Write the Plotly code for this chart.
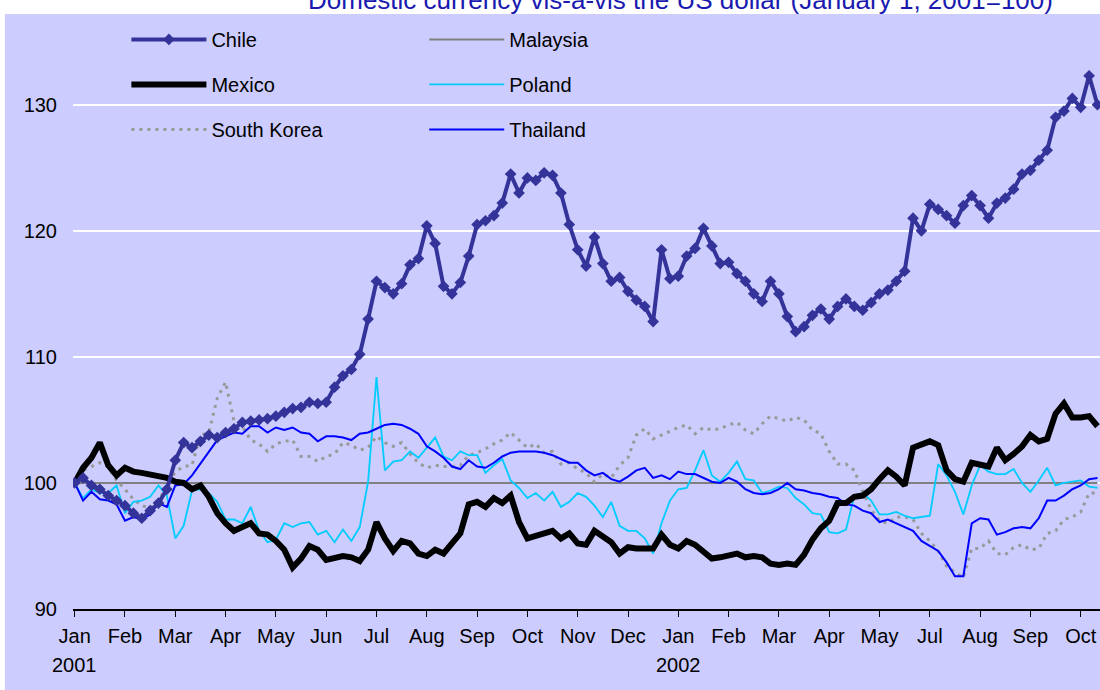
import plotly.graph_objects as go

# ---- data (index = sample position, ~1/6 of a tick interval) ----
chile = [100.0, 100.4, 99.8, 99.5, 99.0, 98.6, 98.2, 97.6, 97.2, 97.8,
         98.4, 99.5, 101.8, 103.2, 102.8, 103.3, 103.8, 103.6, 104.0, 104.3,
         104.8, 104.9, 105.0, 105.1, 105.3, 105.6, 105.9, 106.0, 106.4, 106.3,
         106.4, 107.6, 108.5, 109.0, 110.2, 113.0, 116.0, 115.5, 115.0, 115.8,
         117.3, 117.8, 120.4, 119.0, 115.6, 115.0, 115.9, 118.0, 120.5, 120.8,
         121.2, 122.2, 124.5, 123.0, 124.2, 124.0, 124.6, 124.4, 123.0, 120.5,
         118.5, 117.2, 119.5, 117.4, 116.0, 116.3, 115.2, 114.5, 114.0, 112.8,
         118.5, 116.2, 116.4, 118.0, 118.6, 120.2, 118.8, 117.4, 117.5, 116.6,
         116.0, 115.0, 114.4, 116.0, 115.0, 113.2, 112.0, 112.4, 113.3, 113.8,
         113.0, 114.0, 114.6, 114.0, 113.7, 114.3, 115.0, 115.3, 116.0, 116.8,
         121.0, 120.0, 122.1, 121.7, 121.2, 120.6, 122.0, 122.8, 122.0, 121.0,
         122.2, 122.6, 123.3, 124.5, 124.8, 125.6, 126.4, 129.0, 129.5, 130.5,
         129.8, 132.3, 130.0]

mexico = [100.0, 101.2, 102.0, 103.2, 101.4, 100.6, 101.2, 100.9, 100.8, 100.7,
          100.6, 100.4, 100.1, 100.0, 99.5, 99.8, 98.9, 97.6, 96.8, 96.2,
          96.5, 96.8, 96.0, 95.9, 95.4, 94.7, 93.3, 94.0, 95.0, 94.7,
          93.9, 94.0, 94.2, 94.1, 93.8, 94.7, 96.9, 95.6, 94.6, 95.4,
          95.2, 94.4, 94.2, 94.7, 94.4, 95.2, 96.0, 98.3, 98.5, 98.1,
          98.8, 98.4, 99.0, 96.9, 95.6, 95.8, 96.0, 96.2, 95.6, 96.0,
          95.2, 95.1, 96.2, 95.8, 95.3, 94.4, 94.9, 94.8, 94.8, 94.8,
          95.9, 95.1, 94.8, 95.4, 95.1, 94.5, 94.0, 94.1, 94.2, 94.4,
          94.1, 94.2, 94.1, 93.6, 93.5, 93.6, 93.5, 94.3, 95.5, 96.4,
          97.0, 98.4, 98.4, 98.9, 99.0, 99.5, 100.3, 101.0, 100.5, 99.8,
          102.8, 103.1, 103.3, 103.0, 101.0, 100.3, 100.1, 101.6, 101.5, 101.3,
          102.8, 101.8, 102.3, 102.9, 103.8, 103.3, 103.5, 105.5, 106.3, 105.2,
          105.2, 105.3, 104.5]

poland = [100.0, 98.8, 99.5, 99.2, 99.2, 99.8, 97.6, 98.5, 98.6, 98.9,
          99.8, 99.0, 95.6, 96.6, 99.4, 99.5, 99.2, 98.5, 97.1, 97.1,
          96.8, 98.1, 96.2, 95.3, 95.5, 96.8, 96.5, 96.8, 96.9, 95.9,
          96.2, 95.3, 96.3, 95.4, 96.5, 100.1, 108.4, 101.0, 101.7, 101.8,
          102.5, 102.0, 102.8, 103.6, 102.1, 101.8, 102.5, 102.2, 102.2, 100.8,
          101.4, 101.9, 100.2, 99.6, 98.8, 99.2, 98.6, 99.3, 98.1, 98.5,
          99.2, 98.9, 98.2, 97.3, 98.5, 96.6, 96.2, 96.2, 95.6, 94.4,
          96.8, 98.6, 99.5, 99.6, 101.0, 102.6, 100.6, 100.1, 100.8, 101.7,
          100.3, 100.2, 99.2, 99.4, 99.7, 99.6, 98.8, 98.3, 97.6, 97.5,
          96.1, 96.0, 96.3, 99.0, 99.2, 98.6, 97.5, 97.5, 97.7, 97.4,
          97.2, 97.3, 97.4, 101.5, 100.6, 99.3, 97.5, 99.8, 101.4, 100.9,
          100.7, 100.7, 101.1, 100.0, 99.3, 100.2, 101.2, 99.8, 100.0, 100.1,
          100.2, 99.7, 99.6]

south_korea = [100.0, 101.0, 101.3, 101.6, 101.3, 100.2, 99.5, 98.7, 98.2, 98.0,
               98.6, 99.8, 100.9, 101.3, 101.4, 103.8, 104.0, 106.7, 108.0, 104.9,
               104.5, 103.4, 103.1, 102.5, 103.1, 103.3, 103.4, 102.1, 102.1, 101.7,
               102.1, 102.3, 103.2, 103.0, 102.6, 102.8, 103.7, 103.2, 102.9, 103.2,
               102.3, 101.6, 101.2, 101.4, 101.3, 101.3, 101.4, 102.2, 102.4, 102.7,
               103.1, 103.4, 104.0, 103.4, 102.8, 103.1, 102.4, 102.5, 101.5, 101.6,
               101.1, 100.8, 100.1, 100.7, 100.4, 101.4, 102.0, 103.8, 104.3, 103.5,
               103.8, 104.1, 104.4, 104.6, 103.9, 104.4, 104.2, 104.3, 104.6, 104.8,
               104.2, 103.9, 104.7, 105.3, 105.1, 104.9, 105.2, 105.0, 104.2, 103.9,
               102.5, 101.5, 101.5, 101.0, 99.3, 97.9, 97.0, 96.8, 97.3, 97.3,
               97.1, 96.0, 95.4, 94.6, 93.4, 92.9, 92.5, 94.8, 94.8, 95.4,
               94.4, 94.3, 94.9, 95.1, 94.7, 94.8, 96.0, 96.2, 97.1, 97.3,
               97.7, 99.2, 99.2]

thailand = [100.0, 98.6, 99.3, 98.7, 98.6, 98.3, 97.0, 97.3, 97.1, 97.5,
            98.4, 98.1, 99.8, 99.9, 100.6, 101.5, 102.4, 103.4, 103.7, 104.0,
            103.9, 104.5, 104.5, 104.0, 104.4, 104.2, 104.4, 104.0, 103.9, 103.3,
            103.7, 103.7, 103.6, 103.4, 103.9, 104.0, 104.3, 104.6, 104.7, 104.6,
            104.3, 103.9, 102.9, 102.5, 102.0, 101.3, 101.1, 101.8, 101.3, 101.2,
            101.6, 102.1, 102.4, 102.5, 102.5, 102.5, 102.4, 102.2, 101.9, 101.6,
            101.6, 101.0, 100.6, 100.8, 100.3, 100.1, 100.5, 101.0, 101.2, 100.4,
            100.6, 100.3, 100.9, 100.7, 100.7, 100.4, 100.1, 100.0, 100.4, 100.1,
            99.5, 99.2, 99.1, 99.2, 99.5, 100.0, 99.5, 99.4, 99.2, 99.1,
            98.9, 98.8, 98.3, 98.2, 97.8, 97.6, 96.9, 97.1, 96.8, 96.5,
            96.2, 95.4, 95.0, 94.6, 93.7, 92.6, 92.6, 96.8, 97.2, 97.1,
            95.9, 96.1, 96.4, 96.5, 96.4, 97.2, 98.6, 98.6, 99.0, 99.5,
            99.8, 100.3, 100.4]

malaysia = [100.0, 100.0]  # pegged: flat over the whole period

month_labels = ["Jan", "Feb", "Mar", "Apr", "May", "Jun", "Jul", "Aug", "Sep",
                "Oct", "Nov", "Dec", "Jan", "Feb", "Mar", "Apr", "May", "Jul",
                "Aug", "Sep", "Oct"]
year_labels = ["2001", "2002"]

idx = list(range(len(chile)))
step = 6
tickvals = [k * step for k in range(len(month_labels))]
year_pos = [tickvals[0], tickvals[12]]

FONT = "Liberation Sans, Arial, sans-serif"
LAV = "#CCCCFF"

fig = go.Figure()

fig.add_trace(go.Scatter(x=[idx[0], idx[-1]], y=malaysia, mode="lines", name="Malaysia",
                         line=dict(color="#808080", width=2), legend="legend2",
                         legendgroup="my", legendrank=1))
fig.add_trace(go.Scatter(x=idx, y=south_korea, mode="lines", name="South Korea",
                         line=dict(color="#999999", width=3, dash="3px,5px"),
                         legendgroup="sk", legendrank=3))
fig.add_trace(go.Scatter(x=idx, y=poland, mode="lines", name="Poland",
                         line=dict(color="#00CCFF", width=1.8), legend="legend2",
                         legendgroup="pl", legendrank=2))
fig.add_trace(go.Scatter(x=idx, y=thailand, mode="lines", name="Thailand",
                         line=dict(color="#0000FF", width=2), legend="legend2",
                         legendgroup="th", legendrank=3))
fig.add_trace(go.Scatter(x=idx, y=mexico, mode="lines", name="Mexico",
                         line=dict(color="#000000", width=6),
                         legendgroup="mx", legendrank=2))
fig.add_trace(go.Scatter(x=idx, y=chile, mode="lines+markers", name="Chile",
                         line=dict(color="#333399", width=4),
                         marker=dict(symbol="diamond", size=9, color="#333399"),
                         legendgroup="cl", legendrank=1))

legend_common = dict(font=dict(family=FONT, size=20, color="#000000"),
                     bgcolor="rgba(0,0,0,0)", itemwidth=75, tracegroupgap=16,
                     traceorder="grouped", xanchor="left", yanchor="top",
                     orientation="v")

fig.update_layout(
    width=1100, height=690,
    margin=dict(l=73, r=0, t=14, b=81),
    paper_bgcolor=LAV, plot_bgcolor=LAV,
    font=dict(family=FONT, size=20, color="#000000"),
    showlegend=True,
    legend=dict(x=0.052, y=0.99, **legend_common),
    legend2=dict(x=0.342, y=0.99, **legend_common),
    xaxis=dict(range=[-0.2, 122.3], tickmode="array", tickvals=tickvals,
               ticktext=month_labels, showgrid=False, zeroline=False,
               showline=True, linecolor="#000000", linewidth=1.5,
               ticks="outside", ticklen=6, tickcolor="#000000", tickwidth=1,
               tickfont=dict(family=FONT, size=20, color="#000000"),
               ticklabelstandoff=2, automargin=False),
    yaxis=dict(range=[90, 137.2], tickmode="array", tickvals=[90, 100, 110, 120, 130],
               showgrid=True, gridcolor="#FFFFFF", gridwidth=1.5, zeroline=False,
               showline=False, ticks="", ticklabelstandoff=15, automargin=False,
               tickfont=dict(family=FONT, size=20, color="#000000")),
    shapes=[
        # white strip at top and left of the chart area
        dict(type="rect", xref="paper", yref="paper", x0=-0.08, x1=1.01,
             y0=1.0, y1=1.05, fillcolor="#FFFFFF", line=dict(width=0), layer="below"),
        dict(type="rect", xref="paper", yref="paper", x0=-0.08, x1=-0.0663,
             y0=-0.2, y1=1.05, fillcolor="#FFFFFF", line=dict(width=0), layer="below"),
        # legend box hides the gridline behind it
        dict(type="rect", xref="paper", yref="y", x0=0.004, x1=0.585,
             y0=129.3, y1=130.7, fillcolor=LAV, line=dict(width=0), layer="between"),
    ],
    annotations=[
        dict(text="Domestic currency vis-à-vis the US dollar (January 1, 2001=100)",
             xref="paper", yref="paper", x=0.956, y=1.0, xanchor="right",
             yanchor="middle", yshift=14, showarrow=False,
             font=dict(family=FONT, size=26, color="#1A1AB0")),
    ] + [
        dict(text=yl, xref="x", yref="paper", x=xp, y=-0.094, xanchor="center",
             yanchor="middle", showarrow=False,
             font=dict(family=FONT, size=20, color="#000000"))
        for yl, xp in zip(year_labels, year_pos)
    ],
)

fig.write_html("out.html", config={"displayModeBar": False},
               post_script="document.body.style.margin='0';")
